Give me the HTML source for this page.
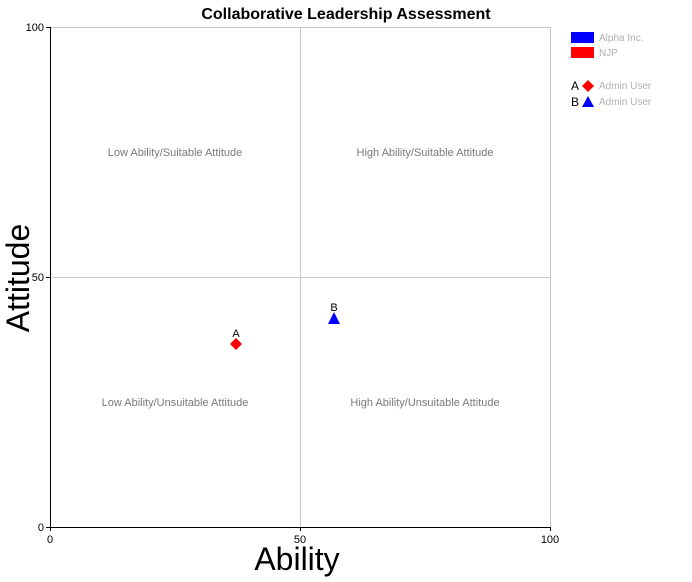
<!DOCTYPE html>
<html><head><style>
body{margin:0;background:#fff;width:692px;height:577px;overflow:hidden}
</style></head><body>
<svg width="692" height="577" xmlns="http://www.w3.org/2000/svg" font-family="Liberation Sans, Arial, sans-serif">
<text x="346" y="19" text-anchor="middle" font-size="16" font-weight="bold">Collaborative Leadership Assessment</text>
<rect x="50.5" y="27.5" width="500" height="500" fill="none" stroke="#c8c8c8"/>
<line x1="300.5" y1="27" x2="300.5" y2="527" stroke="#c8c8c8"/>
<line x1="50" y1="277.5" x2="550" y2="277.5" stroke="#c8c8c8"/>
<line x1="50.5" y1="27" x2="50.5" y2="528" stroke="#000"/>
<line x1="50" y1="527.5" x2="550" y2="527.5" stroke="#000"/>
<g stroke="#000"><line x1="46" y1="27.5" x2="50" y2="27.5"/><line x1="46" y1="277.5" x2="50" y2="277.5"/><line x1="46" y1="527.5" x2="50" y2="527.5"/>
<line x1="50.5" y1="527" x2="50.5" y2="531"/><line x1="300.5" y1="527" x2="300.5" y2="531"/><line x1="550.5" y1="527" x2="550.5" y2="531"/></g>
<g font-size="11" text-anchor="end"><text x="44" y="31">100</text><text x="44" y="281">50</text><text x="44" y="531">0</text></g>
<g font-size="11" text-anchor="middle"><text x="50" y="543">0</text><text x="300" y="543">50</text><text x="550" y="543">100</text></g>
<text x="297" y="570" text-anchor="middle" font-size="32">Ability</text>
<text transform="translate(29,278) rotate(-90)" text-anchor="middle" font-size="32">Attitude</text>
<g font-size="11" fill="#7a7a7a" text-anchor="middle">
<text x="175" y="156">Low Ability/Suitable Attitude</text>
<text x="425" y="156">High Ability/Suitable Attitude</text>
<text x="175" y="406">Low Ability/Unsuitable Attitude</text>
<text x="425" y="406">High Ability/Unsuitable Attitude</text></g>
<polygon points="236,338 242,344 236,350 230,344" fill="#f00"/>
<text x="236" y="337" text-anchor="middle" font-size="11">A</text>
<polygon points="334,312 340,324 328,324" fill="#00f"/>
<text x="334" y="311" text-anchor="middle" font-size="11">B</text>
<rect x="571" y="32" width="23" height="11" fill="#00f"/>
<rect x="571" y="47" width="23" height="11" fill="#f00"/>
<g font-size="10" fill="#b0b0b0"><text x="599" y="41">Alpha Inc.</text><text x="599" y="56">NJP</text>
<text x="599" y="89">Admin User</text><text x="599" y="105">Admin User</text></g>
<text x="571" y="90" font-size="12">A</text>
<polygon points="588,80 594,86 588,92 582,86" fill="#f00"/>
<text x="571" y="106" font-size="12">B</text>
<polygon points="588,96 594,107 582,107" fill="#00f"/>
</svg>
</body></html>
